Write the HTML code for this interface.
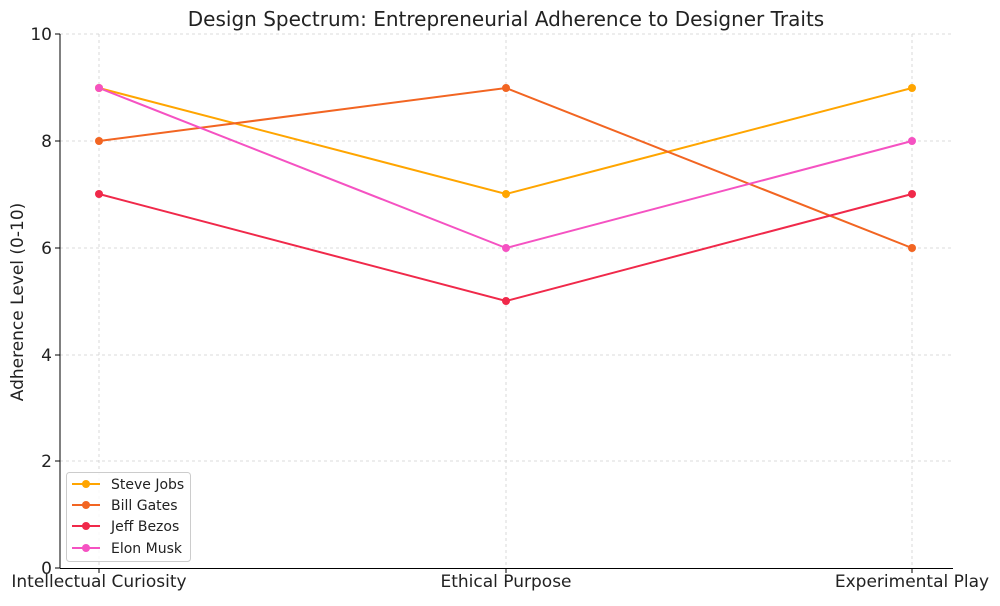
<!DOCTYPE html>
<html><head><meta charset="utf-8"><style>body{margin:0;background:#fff}</style></head><body>
<svg width="1000" height="601" xmlns="http://www.w3.org/2000/svg" font-family="DejaVu Sans, Liberation Sans, sans-serif">
<rect width="1000" height="601" fill="#fff"/>
<g stroke="#d0d0d0" stroke-dasharray="3,3" stroke-width="0.8">
<line x1="60" x2="953" y1="34" y2="34"/><line x1="60" x2="953" y1="141" y2="141"/><line x1="60" x2="953" y1="248" y2="248"/><line x1="60" x2="953" y1="355" y2="355"/><line x1="60" x2="953" y1="461" y2="461"/>
<line x1="99" x2="99" y1="34" y2="568"/><line x1="506" x2="506" y1="34" y2="568"/><line x1="912" x2="912" y1="34" y2="568"/>
</g>
<g stroke="#000" stroke-width="1"><line x1="60" y1="34" x2="60" y2="568.5"/><line x1="60" y1="568.5" x2="953" y2="568.5"/>
<line x1="55" x2="60" y1="34" y2="34"/><line x1="55" x2="60" y1="141" y2="141"/><line x1="55" x2="60" y1="248" y2="248"/><line x1="55" x2="60" y1="355" y2="355"/><line x1="55" x2="60" y1="461" y2="461"/><line x1="55" x2="60" y1="568" y2="568"/>
<line x1="99" x2="99" y1="568" y2="573"/><line x1="506" x2="506" y1="568" y2="573"/><line x1="912" x2="912" y1="568" y2="573"/></g>
<g font-size="17" text-anchor="end" fill="#222"><text x="52" y="40">10</text><text x="52" y="147">8</text><text x="52" y="254">6</text><text x="52" y="361">4</text><text x="52" y="467">2</text><text x="52" y="574">0</text></g>
<g font-size="17" text-anchor="middle" fill="#222"><text x="99" y="587">Intellectual Curiosity</text><text x="506" y="587">Ethical Purpose</text><text x="912" y="587">Experimental Play</text></g>
<text x="23" y="302" font-size="17" text-anchor="middle" transform="rotate(-90 23 302)" fill="#222">Adherence Level (0-10)</text>
<text x="506" y="26" font-size="20" text-anchor="middle" fill="#222">Design Spectrum: Entrepreneurial Adherence to Designer Traits</text>
<g stroke-width="2" fill="none">
<polyline stroke="#FFA500" points="99,88 506,194 912,88"/>
<polyline stroke="#F26522" points="99,141 506,88 912,248"/>
<polyline stroke="#F0294A" points="99,194 506,301 912,194"/>
<polyline stroke="#F552C2" points="99,88 506,248 912,141"/>
</g>
<g fill="#FFA500"><circle cx="99" cy="88" r="4"/><circle cx="506" cy="194" r="4"/><circle cx="912" cy="88" r="4"/></g>
<g fill="#F26522"><circle cx="99" cy="141" r="4"/><circle cx="506" cy="88" r="4"/><circle cx="912" cy="248" r="4"/></g>
<g fill="#F0294A"><circle cx="99" cy="194" r="4"/><circle cx="506" cy="301" r="4"/><circle cx="912" cy="194" r="4"/></g>
<g fill="#F552C2"><circle cx="99" cy="88" r="4"/><circle cx="506" cy="248" r="4"/><circle cx="912" cy="141" r="4"/></g>
<rect x="66.5" y="472.5" width="124" height="89" rx="3" fill="#fff" fill-opacity="0.8" stroke="#ccc"/>
<g stroke-width="2"><line x1="72" x2="100" y1="484" y2="484" stroke="#FFA500"/><line x1="72" x2="100" y1="505" y2="505" stroke="#F26522"/><line x1="72" x2="100" y1="526" y2="526" stroke="#F0294A"/><line x1="72" x2="100" y1="548" y2="548" stroke="#F552C2"/></g>
<circle cx="86" cy="484" r="4" fill="#FFA500"/><circle cx="86" cy="505" r="4" fill="#F26522"/><circle cx="86" cy="526" r="4" fill="#F0294A"/><circle cx="86" cy="548" r="4" fill="#F552C2"/>
<g font-size="14" fill="#222"><text x="111" y="489">Steve Jobs</text><text x="111" y="510">Bill Gates</text><text x="111" y="531">Jeff Bezos</text><text x="111" y="553">Elon Musk</text></g>
</svg>
</body></html>
